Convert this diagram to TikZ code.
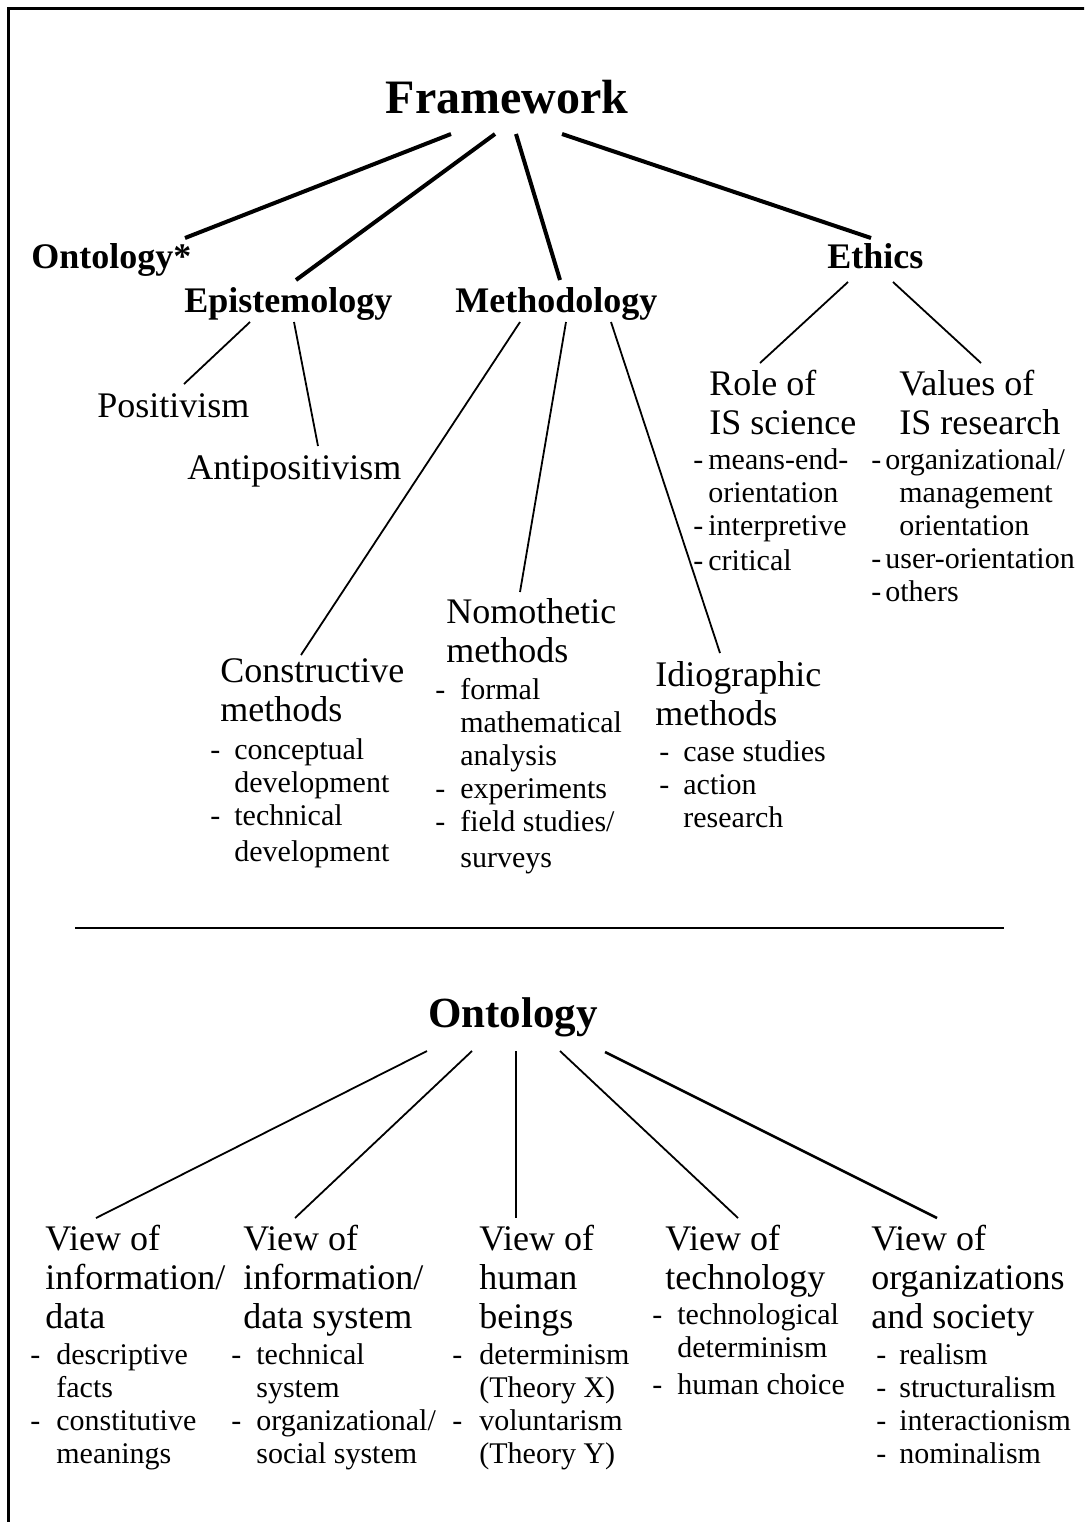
\documentclass[tikz,border=0pt]{standalone}
\usepackage{fontspec}
\setmainfont{Liberation Serif}
\newcommand{\dashitem}[2]{\makebox[#1][l]{-}#2}
\newcommand{\contitem}[2]{\hspace*{#1}#2}
\begin{document}
\begin{tikzpicture}[x=0.5pt,y=-0.5pt,
  head/.style={font=\fontsize{18pt}{19.5pt}\selectfont\bfseries, inner sep=0pt, anchor=base west},
  single/.style={font=\fontsize{18pt}{19.5pt}\selectfont, inner sep=0pt, anchor=base west},
  % multi-line blocks: placed by the baseline of their first line
  ttl/.style={font=\fontsize{18pt}{19.5pt}\selectfont, align=left, inner sep=0pt,
    anchor=north west, yshift=12.15pt, execute at begin node=\strut},
  itm/.style={font=\fontsize{15pt}{16.5pt}\selectfont, align=left, inner sep=0pt,
    anchor=north west, yshift=10.05pt, execute at begin node=\strut},
  trunk/.style={line width=2pt},
  twig/.style={line width=0.9pt}]
\useasboundingbox (0,0) rectangle (1084,1522);
\begin{scope}
  \clip (0,0) rectangle (1084,1522);
  \draw[line width=1.5pt] (8.5,8.5) rectangle (1200,1600);
\end{scope}

% ---------- framework tree ----------
\node[font=\fontsize{24pt}{26pt}\selectfont\bfseries, inner sep=0pt, anchor=base] (fw) at (507,113) {Framework};
\node[head] (ont1) at (31,268) {Ontology*};
\node[head] (epi) at (184,312) {Epistemology};
\node[head] (met) at (455,312) {Methodology};
\node[head] (eth) at (827,268) {Ethics};

\coordinate (fw1) at (451,134); \coordinate (ont1t) at (185,238);
\coordinate (fw2) at (495,134); \coordinate (epit) at (296,280);
\coordinate (fw3) at (516,134); \coordinate (mett) at (560,280);
\coordinate (fw4) at (562,134); \coordinate (etht) at (871,238);
\draw[trunk] (fw1) -- (ont1t);
\draw[trunk] (fw2) -- (epit);
\draw[trunk] (fw3) -- (mett);
\draw[trunk] (fw4) -- (etht);

% epistemology
\node[single] (pos) at (97,417) {Positivism};
\node[single] (anti) at (187,479) {Antipositivism};
\coordinate (epi1) at (250,322); \coordinate (post) at (184,384);
\coordinate (epi2) at (294,322); \coordinate (antit) at (318,446);
\draw[twig] (epi1) -- (post);
\draw[twig] (epi2) -- (antit);

% methodology
\node[ttl] (con) at (220,683) {Constructive\\methods};
\node[itm] (conl) at (210,758) {\dashitem{12pt}{conceptual}\\\contitem{12pt}{development}\\\dashitem{12pt}{technical}\\[1.5pt]\contitem{12pt}{development}};
\node[ttl] (nom) at (446,622) {Nomothetic\\methods};
\node[itm] (noml) at (435,698) {\dashitem{12.5pt}{formal}\\\contitem{12.5pt}{mathematical}\\\contitem{12.5pt}{analysis}\\\dashitem{12.5pt}{experiments}\\\dashitem{12.5pt}{field studies/}\\[1.5pt]\contitem{12.5pt}{surveys}};
\node[ttl] (idi) at (655,685) {Idiographic\\methods};
\node[itm] (idil) at (659,760) {\dashitem{12pt}{case studies}\\\dashitem{12pt}{action}\\\contitem{12pt}{research}};
\coordinate (met1) at (520,322); \coordinate (cont) at (301,655);
\coordinate (met2) at (566,322); \coordinate (nomt) at (520,592);
\coordinate (met3) at (611,322); \coordinate (idit) at (720,653);
\draw[twig] (met1) -- (cont);
\draw[twig] (met2) -- (nomt);
\draw[twig] (met3) -- (idit);

% ethics
\node[ttl] (rol) at (709,394) {Role of\\IS science};
\node[itm] (roll) at (693,468) {\dashitem{7.5pt}{means-end-}\\\contitem{7.5pt}{orientation}\\\dashitem{7.5pt}{interpretive}\\[1pt]\dashitem{7.5pt}{critical}};
\node[ttl] (val) at (899,394) {Values of\\IS research};
\node[itm] (vall) at (871,468) {\dashitem{7pt}{organizational/}\\\contitem{14pt}{management}\\\contitem{14pt}{orientation}\\\dashitem{7pt}{user-orientation}\\\dashitem{7pt}{others}};
\coordinate (eth1) at (848,282); \coordinate (rolt) at (760,363);
\coordinate (eth2) at (893,282); \coordinate (valt) at (981,363);
\draw[twig] (eth1) -- (rolt);
\draw[twig] (eth2) -- (valt);

% ---------- separator ----------
\coordinate (sepl) at (75,928); \coordinate (sepr) at (1004,928);
\draw[line width=1pt] (sepl) -- (sepr);

% ---------- ontology tree ----------
\node[font=\fontsize{21.5pt}{23pt}\selectfont\bfseries, inner sep=0pt, anchor=base] (ont) at (513,1027) {Ontology};

\node[ttl] (vi) at (45,1249) {View of\\information/\\data};
\node[itm] (vil) at (30,1363) {\dashitem{13pt}{descriptive}\\\contitem{13pt}{facts}\\\dashitem{13pt}{constitutive}\\\contitem{13pt}{meanings}};
\node[ttl] (vs) at (243,1249) {View of\\information/\\data system};
\node[itm] (vsl) at (231,1363) {\dashitem{12.5pt}{technical}\\\contitem{12.5pt}{system}\\\dashitem{12.5pt}{organizational/}\\\contitem{12.5pt}{social system}};
\node[ttl] (vh) at (479,1249) {View of\\human\\beings};
\node[itm] (vhl) at (452,1363) {\dashitem{13.5pt}{determinism}\\\contitem{13.5pt}{(Theory X)}\\\dashitem{13.5pt}{voluntarism}\\\contitem{13.5pt}{(Theory Y)}};
\node[ttl] (vt) at (665,1249) {View of\\technology};
\node[itm] (vtl) at (652,1323) {\dashitem{12.5pt}{technological}\\\contitem{12.5pt}{determinism}\\[2pt]\dashitem{12.5pt}{human choice}};
\node[ttl] (vo) at (871,1249) {View of\\organizations\\and society};
\node[itm] (vol) at (876,1363) {\dashitem{11.5pt}{realism}\\\dashitem{11.5pt}{structuralism}\\\dashitem{11.5pt}{interactionism}\\\dashitem{11.5pt}{nominalism}};

\coordinate (ont1b) at (427,1051); \coordinate (vit) at (96,1218);
\coordinate (ont2b) at (472,1051); \coordinate (vst) at (295,1218);
\coordinate (ont3b) at (516,1051); \coordinate (vht) at (516,1218);
\coordinate (ont4b) at (560,1051); \coordinate (vtt) at (738,1218);
\coordinate (ont5b) at (605,1052); \coordinate (vot) at (937,1218);
\draw[twig] (ont1b) -- (vit);
\draw[twig] (ont2b) -- (vst);
\draw[twig] (ont3b) -- (vht);
\draw[twig] (ont4b) -- (vtt);
\draw[line width=1.3pt] (ont5b) -- (vot);
\end{tikzpicture}
\end{document}
